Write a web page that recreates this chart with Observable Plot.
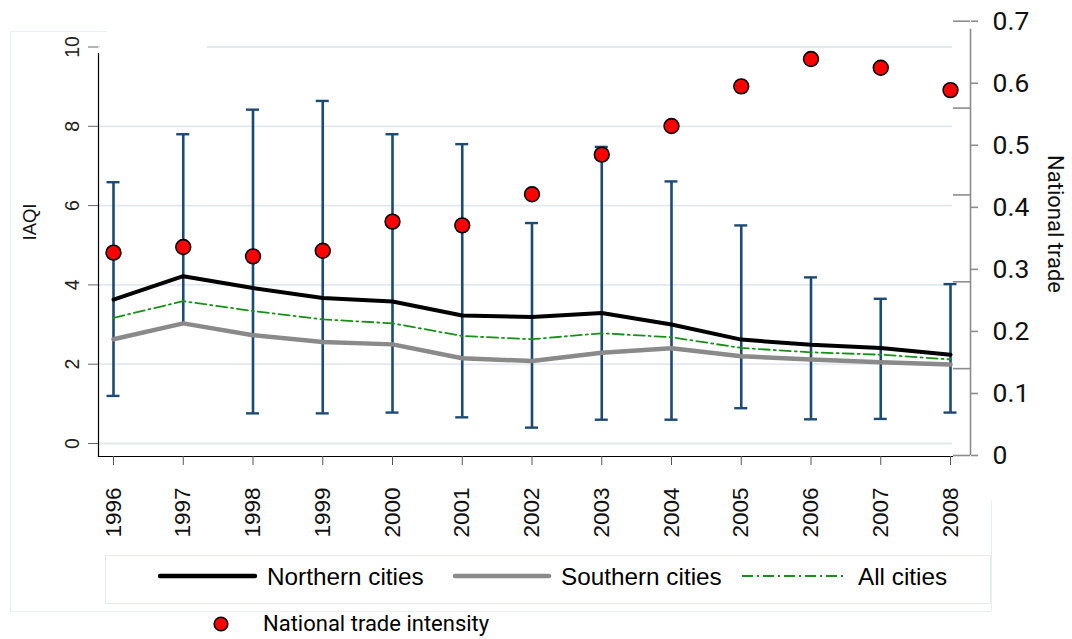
<!DOCTYPE html>
<html>
<head>
<meta charset="utf-8">
<script src="https://cdn.jsdelivr.net/npm/d3@7"></script>
<script src="https://cdn.jsdelivr.net/npm/@observablehq/plot@0.6"></script>
<style>
  html, body { margin: 0; padding: 0; background: #fff; }
  #wrap { position: relative; width: 1072px; height: 639px; overflow: hidden; font-family: "Liberation Sans", Arial, sans-serif; }
  #chart { position: absolute; left: 0; top: 0; }
  .faint { position: absolute; background: #e9eef1; }
  .leg { position: absolute; font-size: 24.3px; color: #000; white-space: nowrap; line-height: 1; }
  .narrow { font-family: "Liberation Sans Narrow", "Roboto", sans-serif; }
</style>
</head>
<body>
<div id="wrap">
  <div class="faint" style="left:10px; top:31px; width:1px; height:580px;"></div>
  <div class="faint" style="left:10px; top:31px; width:97px; height:1px;"></div>
  <div class="faint" style="left:10px; top:611px; width:981px; height:1px;"></div>
  <div class="faint" style="left:991px; top:500px; width:1px; height:111px;"></div>
  <div id="chart"></div>
  <div style="position:absolute; left:100px; top:32px; width:107px; height:16px; background:#fff;"></div>
  <div id="legend"></div>
</div>
<script>
// ---------------- data ----------------
const years = [1996, 1997, 1998, 1999, 2000, 2001, 2002, 2003, 2004, 2005, 2006, 2007, 2008];
const northern = [3.63, 4.22, 3.92, 3.67, 3.58, 3.23, 3.19, 3.29, 3.00, 2.62, 2.49, 2.41, 2.24];
const southern = [2.63, 3.03, 2.73, 2.56, 2.50, 2.15, 2.08, 2.29, 2.40, 2.20, 2.12, 2.05, 1.99];
const allCities = [3.17, 3.59, 3.34, 3.13, 3.03, 2.71, 2.63, 2.78, 2.68, 2.41, 2.30, 2.24, 2.12];
const rangeHigh = [6.59, 7.80, 8.42, 8.64, 7.80, 7.55, 5.56, 7.48, 6.61, 5.50, 4.19, 3.65, 4.02];
const rangeLow = [1.20, null, 0.76, 0.76, 0.78, 0.66, 0.40, 0.60, 0.60, 0.89, 0.61, 0.62, 0.78];
const tradeIntensity = [0.327, 0.336, 0.321, 0.330, 0.377, 0.371, 0.421, 0.485, 0.531, 0.595, 0.639, 0.625, 0.589];

const leftTicks = [0, 2, 4, 6, 8, 10];
const rightTicks = [0, 0.1, 0.2, 0.3, 0.4, 0.5, 0.6, 0.7];
const rightMinorTicks = [0, 0.14, 0.28, 0.42, 0.56, 0.7];
const rightTickLabels = ["0", "0.1", "0.2", "0.3", "0.4", "0.5", "0.6", "0.7"];

const leftTitle = "IAQI";
const rightTitle = "National trade";
const seriesNames = ["Northern cities", "Southern cities", "All cities", "National trade intensity"];

// secondary axis (trade, 0–0.7) expressed in IAQI units of the primary scale
const TRADE_OFFSET = -0.3026, TRADE_FACTOR = 15.647;
const toL = t => TRADE_OFFSET + TRADE_FACTOR * t;

const rows = years.map((year, i) => ({
  year,
  north: northern[i], south: southern[i], all: allCities[i],
  high: rangeHigh[i], low: rangeLow[i],
  trade: tradeIntensity[i]
}));

const barColor = "#1d4a74";
const greenColor = "#179017";
const grayColor = "#8a8a8a";
const axisGray = "#8c8c8c";
const narrowFont = "'Liberation Sans Narrow', Roboto, sans-serif";

const plot = Plot.plot({
  width: 1072,
  height: 540,
  marginLeft: 98,
  marginRight: 120,
  marginTop: 53,
  marginBottom: 84,
  style: { fontFamily: "'Liberation Sans', Arial, sans-serif", background: "transparent", overflow: "visible" },
  x: { domain: [1996, 2008], range: [113, 950], axis: null },
  y: { domain: [0, 10], range: [443, 46.5], axis: null },
  marks: [
    Plot.ruleY(leftTicks, { stroke: "#e1e9ef", strokeWidth: 1.8 }),
    // error bars
    Plot.ruleX(rows, { x: "year", y1: d => d.low ?? d.south, y2: "high", stroke: barColor, strokeWidth: 2.6 }),
    Plot.ruleY(rows, { y: "high", x1: "year", x2: "year", insetLeft: -6.5, insetRight: -6.5, stroke: barColor, strokeWidth: 2.4 }),
    Plot.ruleY(rows.filter(d => d.low != null), { y: "low", x1: "year", x2: "year", insetLeft: -6.5, insetRight: -6.5, stroke: barColor, strokeWidth: 2.4 }),
    // lines
    Plot.line(rows, { x: "year", y: "south", stroke: grayColor, strokeWidth: 4.5 }),
    Plot.line(rows, { x: "year", y: "all", stroke: greenColor, strokeWidth: 1.8, strokeDasharray: "11,4,2,4" }),
    Plot.line(rows, { x: "year", y: "north", stroke: "#000", strokeWidth: 4 }),
    // trade points
    Plot.dot(rows, { x: "year", y: d => toL(d.trade), r: 7.4, fill: "#ff0000", stroke: "#000", strokeWidth: 1.6 }),
    // axes lines
    Plot.frame({ anchor: "left", stroke: "#000", strokeWidth: 1.2 }),
    Plot.frame({ anchor: "bottom", stroke: "#000", strokeWidth: 1.2 }),
    // left axis
    Plot.axisY(leftTicks, { anchor: "left", tickSize: 10, tickPadding: 10, tickRotate: -90, fontSize: 19.5, stroke: "#666", color: "#222", label: null }),
    Plot.text([leftTitle], { frameAnchor: "left", textAnchor: "middle", dx: -68, dy: -33, rotate: -90, fontSize: 18.5, fill: "#111" }),
    // x axis
    Plot.axisX(years, { anchor: "bottom", tickSize: 9, tickPadding: 22, tickRotate: -90, fontSize: 22.5, stroke: "#555", color: "#111", tickFormat: d => String(d), label: null }),
    // right axis
    Plot.ruleX([years[years.length - 1]], { x: d => d, y1: toL(rightTicks[0]), y2: toL(rightTicks[rightTicks.length - 1]), dx: 20, insetBottom: -8, stroke: axisGray, strokeWidth: 1.6 }),
    Plot.axisY(rightTicks.map(toL), { anchor: "right", dx: 18, tickSize: 7, tickPadding: 15, stroke: axisGray, strokeWidth: 1.6, fontSize: 26.5, color: "#111",
      fontFamily: narrowFont,
      tickFormat: d => rightTickLabels[rightTicks.findIndex(t => Math.abs(toL(t) - d) < 1e-6)], label: null }),
    Plot.axisY(rightMinorTicks.map(toL), { anchor: "left", dx: 872, tickSize: 17, stroke: axisGray, strokeWidth: 1.6, tickFormat: () => "", label: null }),
    Plot.text([rightTitle], { frameAnchor: "right", textAnchor: "middle", dx: 103, dy: -31, rotate: 90, fontSize: 22, fill: "#111", fontFamily: narrowFont })
  ]
});
document.getElementById("chart").appendChild(plot);

// ---------------- legend (HTML) ----------------
const legend = document.getElementById("legend");
legend.innerHTML = `
  <div style="position:absolute; left:105px; top:555px; width:884px; height:47px; border:1px solid #e4ebef; background:#fff;"></div>
  <svg style="position:absolute; left:158px; top:570px;" width="100" height="12"><line x1="2" y1="6" x2="97" y2="6" stroke="#000" stroke-width="4.5" stroke-linecap="round"/></svg>
  <div class="leg" style="left:267px; top:565px;">${seriesNames[0]}</div>
  <svg style="position:absolute; left:453px; top:570px;" width="100" height="12"><line x1="2" y1="6" x2="96" y2="6" stroke="${grayColor}" stroke-width="4.5" stroke-linecap="round"/></svg>
  <div class="leg" style="left:561px; top:565px;">${seriesNames[1]}</div>
  <svg style="position:absolute; left:740px; top:570px;" width="110" height="12"><line x1="2" y1="6" x2="106" y2="6" stroke="${greenColor}" stroke-width="1.8" stroke-dasharray="11,4,2,4"/></svg>
  <div class="leg" style="left:858px; top:565px;">${seriesNames[2]}</div>
  <svg style="position:absolute; left:210px; top:613px;" width="22" height="22"><circle cx="11" cy="11" r="6.8" fill="#ff0000" stroke="#000" stroke-width="1.6"/></svg>
  <div class="leg narrow" style="left:263px; top:613px; font-size:22px;">${seriesNames[3]}</div>
`;
</script>
</body>
</html>
